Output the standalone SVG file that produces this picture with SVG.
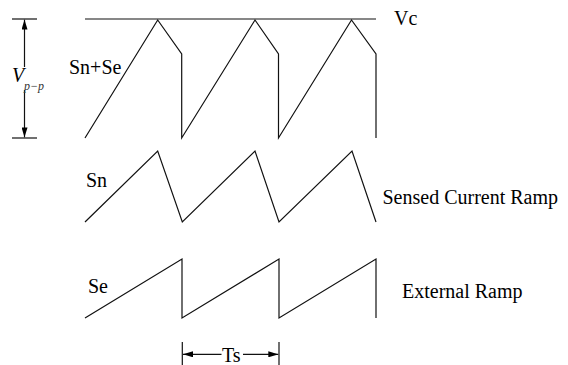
<svg xmlns="http://www.w3.org/2000/svg" width="568" height="365" viewBox="0 0 568 365">
<defs>
<style>
.w{fill:none;stroke:#111;stroke-width:1.2;stroke-linejoin:miter}
.t{font-family:"Liberation Serif","Times New Roman",serif;font-size:20px;fill:#000}
.i{font-style:italic}
</style>
<marker id="ah" viewBox="0 0 10 6" refX="10" refY="3" markerWidth="10" markerHeight="6" markerUnits="userSpaceOnUse" orient="auto">
<path d="M0,0 L10,3 L0,6 Z" fill="#000"/>
</marker>
</defs>
<rect width="568" height="365" fill="#fff"/>
<g id="vc-level">
<line class="w" x1="85" y1="19" x2="376" y2="19"/>
<text class="t" x="394" y="25">Vc</text>
</g>
<g id="vpp">
<line class="w" x1="12" y1="19" x2="37" y2="19"/>
<line class="w" x1="12" y1="138" x2="37" y2="138"/>
<g class="connectors">
<line class="w" x1="24.5" y1="67" x2="24.5" y2="19.6" marker-end="url(#ah)"/>
<line class="w" x1="24.5" y1="90" x2="24.5" y2="137.4" marker-end="url(#ah)"/>
</g>
<text class="t i" x="12" y="82">V</text>
<text class="t i" x="24" y="90" style="font-size:12px;fill:#333">p−p</text>
</g>
<g id="sn-se">
<polyline class="w" points="85,138 157.7,20 181.7,54 181.7,138 255,20 278.5,54 278.5,138 351.5,20 376,54 376,138"/>
<text class="t" x="69" y="74">Sn+Se</text>
</g>
<g id="sn">
<polyline class="w" points="85,222 157.7,151 182.3,222 255,151 279,222 352,151 376,222"/>
<text class="t" x="86" y="187">Sn</text>
<text class="t" x="382.5" y="204">Sensed Current Ramp</text>
</g>
<g id="se">
<polyline class="w" points="85,318 182,259 182,318 279,259 279,318 376,259 376,318"/>
<text class="t" x="88" y="293">Se</text>
<text class="t" x="402" y="298">External Ramp</text>
</g>
<g id="ts">
<line class="w" x1="182.3" y1="342" x2="182.3" y2="365"/>
<line class="w" x1="279" y1="342" x2="279" y2="365"/>
<g class="connectors">
<line class="w" x1="221.5" y1="354.3" x2="183" y2="354.3" marker-end="url(#ah)"/>
<line class="w" x1="243" y1="354.3" x2="278.3" y2="354.3" marker-end="url(#ah)"/>
</g>
<text class="t" x="222" y="362">Ts</text>
</g>
</svg>
